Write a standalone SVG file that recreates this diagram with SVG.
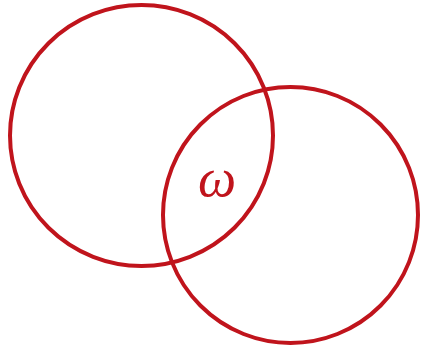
<svg xmlns="http://www.w3.org/2000/svg" width="422" height="351" viewBox="0 0 422 351">
<style>
.c{fill:none;stroke:#c0141c;stroke-width:4}
.t{fill:#c0141c;font-family:"Liberation Serif","DejaVu Serif",serif;font-style:italic;font-size:54px}
</style>
<rect width="422" height="351" fill="#ffffff"/>
<g id="circle1"><ellipse class="c" cx="141.5" cy="135.5" rx="131.5" ry="130.5"/></g>
<g id="circle2"><ellipse class="c" cx="290.5" cy="215" rx="127.5" ry="128"/></g>
<g id="label"><text class="t" x="217" y="196" text-anchor="middle">ω</text></g>
</svg>
